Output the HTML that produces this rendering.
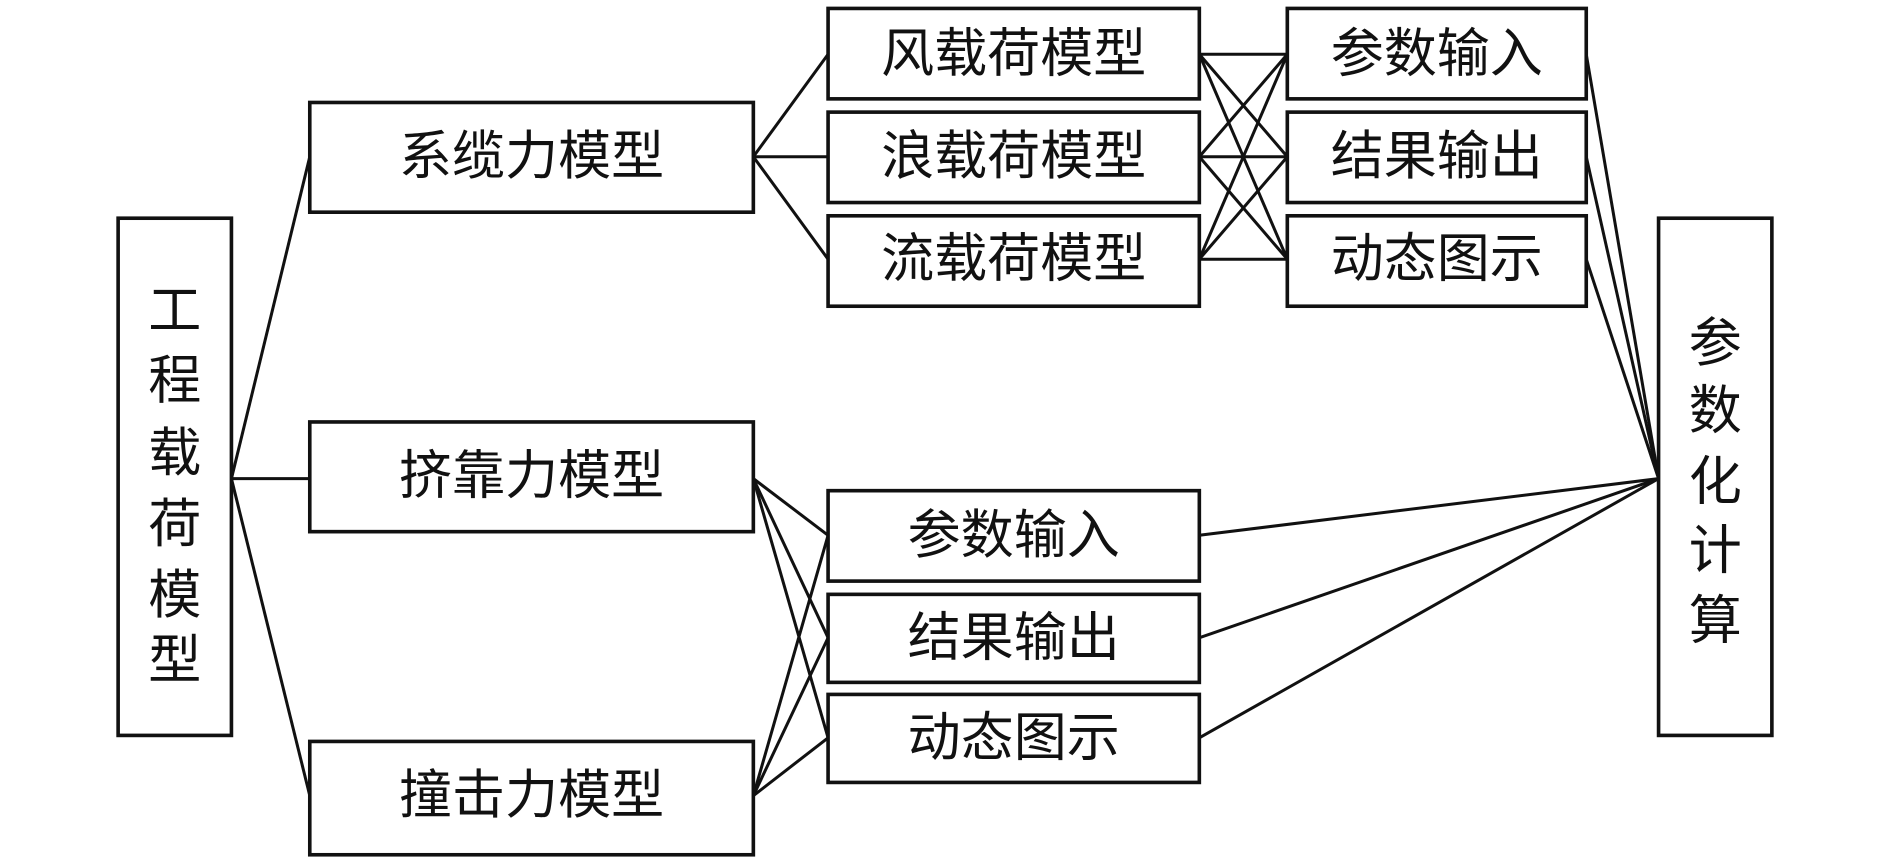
<!DOCTYPE html>
<html><head><meta charset="utf-8"><style>
html,body{margin:0;padding:0;background:#fff;}
svg{display:block;}
text{font-family:"Liberation Sans","Noto Sans CJK SC",sans-serif;font-size:44px;fill:#111;text-anchor:middle;dominant-baseline:central;}
</style></head><body>
<svg width="1890" height="862" viewBox="0 0 1568 715" preserveAspectRatio="none" xmlns="http://www.w3.org/2000/svg">
<g stroke="#111" stroke-width="2.5" fill="none">
<line x1="192" y1="397" x2="257" y2="130"/>
<line x1="192" y1="397" x2="257" y2="397"/>
<line x1="192" y1="397" x2="257" y2="660"/>
<line x1="625" y1="130" x2="687" y2="45"/>
<line x1="625" y1="130" x2="687" y2="130"/>
<line x1="625" y1="130" x2="687" y2="215"/>
<line x1="625" y1="397" x2="687" y2="444"/>
<line x1="625" y1="397" x2="687" y2="529"/>
<line x1="625" y1="397" x2="687" y2="612"/>
<line x1="625" y1="660" x2="687" y2="444"/>
<line x1="625" y1="660" x2="687" y2="529"/>
<line x1="625" y1="660" x2="687" y2="612"/>
<line x1="995" y1="45" x2="1068" y2="45"/><line x1="995" y1="45" x2="1068" y2="130"/><line x1="995" y1="45" x2="1068" y2="215"/>
<line x1="995" y1="130" x2="1068" y2="45"/><line x1="995" y1="130" x2="1068" y2="130"/><line x1="995" y1="130" x2="1068" y2="215"/>
<line x1="995" y1="215" x2="1068" y2="45"/><line x1="995" y1="215" x2="1068" y2="130"/><line x1="995" y1="215" x2="1068" y2="215"/>
<line x1="1316" y1="45" x2="1376" y2="397"/>
<line x1="1316" y1="130" x2="1376" y2="397"/>
<line x1="1316" y1="215" x2="1376" y2="397"/>
<line x1="995" y1="444" x2="1376" y2="397"/>
<line x1="995" y1="529" x2="1376" y2="397"/>
<line x1="995" y1="612" x2="1376" y2="397"/>
</g>
<g stroke="#111" stroke-width="3" fill="#fff">
<rect x="98" y="181" width="94" height="429"/>
<rect x="1376" y="181" width="94" height="429"/>
<rect x="257" y="85" width="368" height="91"/>
<rect x="257" y="350" width="368" height="91"/>
<rect x="257" y="615" width="368" height="94"/>
<rect x="687" y="7" width="308" height="75"/>
<rect x="687" y="93" width="308" height="75"/>
<rect x="687" y="179" width="308" height="75"/>
<rect x="1068" y="7" width="248" height="75"/>
<rect x="1068" y="93" width="248" height="75"/>
<rect x="1068" y="179" width="248" height="75"/>
<rect x="687" y="407" width="308" height="75"/>
<rect x="687" y="493" width="308" height="73"/>
<rect x="687" y="576" width="308" height="73"/>
</g>
<text x="145" y="258">工</text><text x="145" y="316">程</text><text x="145" y="376">载</text>
<text x="145" y="435">荷</text><text x="145" y="494">模</text><text x="145" y="548">型</text>
<text x="1423" y="285">参</text><text x="1423" y="341">数</text><text x="1423" y="400">化</text>
<text x="1423" y="457">计</text><text x="1423" y="515">算</text>
<text x="441" y="130">系缆力模型</text>
<text x="441" y="395">挤靠力模型</text>
<text x="441" y="660">撞击力模型</text>
<text x="841" y="45">风载荷模型</text>
<text x="841" y="130">浪载荷模型</text>
<text x="841" y="215">流载荷模型</text>
<text x="1192" y="45">参数输入</text>
<text x="1192" y="130">结果输出</text>
<text x="1192" y="215">动态图示</text>
<text x="841" y="444">参数输入</text>
<text x="841" y="529">结果输出</text>
<text x="841" y="612">动态图示</text>
</svg>
</body></html>
